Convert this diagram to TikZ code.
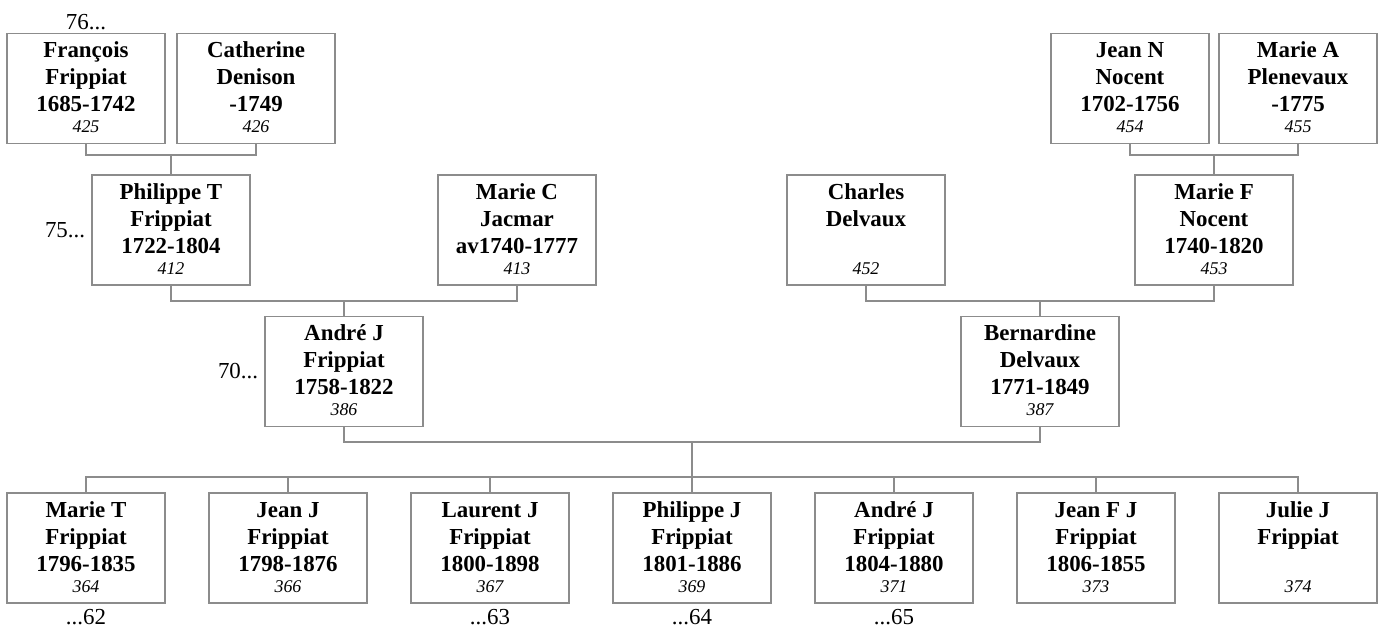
\documentclass[tikz,border=0pt]{standalone}
\usepackage{fontspec}
\setmainfont{Liberation Serif}
\usetikzlibrary{positioning, calc}
\definecolor{boxgray}{RGB}{140,140,140}
\tikzset{
  personbox/.style={draw=boxgray, line width=1.4bp, fill=white,
    minimum width=158bp, minimum height=110bp, inner sep=0pt, align=center,
    font=\fontsize{23}{27}\selectfont\bfseries, text height=91bp, text depth=3bp},
  famline/.style={draw=boxgray, line width=1.4bp},
  genlabel/.style={font=\fontsize{23}{27}\selectfont, inner sep=0pt}
}
\newcommand{\refno}[1]{\\[-6bp]{\fontsize{18}{21}\selectfont\mdseries\itshape #1}}

\begin{document}
\begin{tikzpicture}[x=1bp, y=-1bp]
  \useasboundingbox (0,0) rectangle (1382,627);
  % oldest generation
  \node[personbox] (francois) at (86,88.5) {François\\Frippiat\\1685-1742\refno{425}};
  \node[personbox] (catherine) at (256,88.5) {Catherine\\Denison\\-1749\refno{426}};
  \node[personbox] (jeann) at (1130,88.5) {Jean N\\Nocent\\1702-1756\refno{454}};
  \node[personbox] (mariea) at (1298,88.5) {Marie A\\Plenevaux\\-1775\refno{455}};
  % grandparents
  \node[personbox] (philippet) at (171,230) {Philippe T\\Frippiat\\1722-1804\refno{412}};
  \node[personbox] (mariec) at (517,230) {Marie C\\Jacmar\\av1740-1777\refno{413}};
  \node[personbox] (charles) at (866,230) {Charles\\Delvaux\\{}\refno{452}};
  \node[personbox] (marief) at (1214,230) {Marie F\\Nocent\\1740-1820\refno{453}};
  % parents
  \node[personbox] (andre) at (344,371.5) {André J\\Frippiat\\1758-1822\refno{386}};
  \node[personbox] (bernardine) at (1040,371.5) {Bernardine\\Delvaux\\1771-1849\refno{387}};
  % children
  \node[personbox] (mariet) at (86,548) {Marie T\\Frippiat\\1796-1835\refno{364}};
  \node[personbox] (jeanj) at (288,548) {Jean J\\Frippiat\\1798-1876\refno{366}};
  \node[personbox] (laurent) at (490,548) {Laurent J\\Frippiat\\1800-1898\refno{367}};
  \node[personbox] (philippej) at (692,548) {Philippe J\\Frippiat\\1801-1886\refno{369}};
  \node[personbox] (andrej) at (894,548) {André J\\Frippiat\\1804-1880\refno{371}};
  \node[personbox] (jeanfj) at (1096,548) {Jean F J\\Frippiat\\1806-1855\refno{373}};
  \node[personbox] (juliej) at (1298,548) {Julie J\\Frippiat\\{}\refno{374}};
  % generation marks
  \node[genlabel, above=3bp of francois] (g76) {76...};
  \node[genlabel, left=6bp of philippet] (g75) {75...};
  \node[genlabel, left=6bp of andre] (g70) {70...};
  \node[genlabel, below=5bp of mariet] (g62) {...62};
  \node[genlabel, below=5bp of laurent] (g63) {...63};
  \node[genlabel, below=5bp of philippej] (g64) {...64};
  \node[genlabel, below=5bp of andrej] (g65) {...65};
  % couples
  \coordinate (fc) at (171,155);
  \coordinate (nc) at (1214,155);
  \coordinate (pm) at (344,301);
  \coordinate (cm) at (1040,301);
  \coordinate (ab) at (692,442);
  \coordinate (kids) at (692,477);
  \draw[famline] (francois.south) |- (fc) -| (catherine.south);
  \draw[famline] (fc) -- (philippet.north);
  \draw[famline] (jeann.south) |- (nc) -| (mariea.south);
  \draw[famline] (nc) -- (marief.north);
  \draw[famline] (philippet.south) |- (pm) -| (mariec.south);
  \draw[famline] (pm) -- (andre.north);
  \draw[famline] (charles.south) |- (cm) -| (marief.south);
  \draw[famline] (cm) -- (bernardine.north);
  \draw[famline] (andre.south) |- (ab) -| (bernardine.south);
  \draw[famline] (ab) -- (kids);
  \foreach \k in {mariet, jeanj, laurent, philippej, andrej, jeanfj, juliej}
    \draw[famline] (kids) -| (\k.north);
\end{tikzpicture}
\end{document}
